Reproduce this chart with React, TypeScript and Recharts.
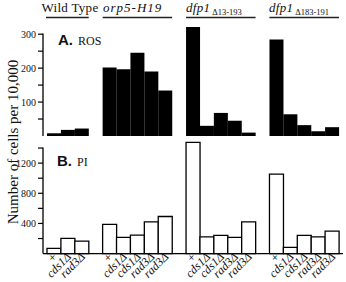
import React from 'react';
import { BarChart, Bar, XAxis, YAxis } from 'recharts';

// genotype labels under each bar
const wtLabels = ['+', 'cds1Δ', 'rad3Δ'];
const mutLabels = ['+', 'cds1Δ', 'cds1Δ', 'rad3Δ', 'rad3Δ'];

// A. ROS (cells per 10,000)
const rosWildType = [8, 18, 22];
const rosOrp5 = [202, 197, 245, 190, 134];
const rosDfp1a = [321, 30, 68, 45, 10];
const rosDfp1b = [284, 64, 32, 14, 26];

// B. PI (cells per 10,000)
const piWildType = [70, 202, 165];
const piOrp5 = [387, 215, 245, 421, 492];
const piDfp1a = [1476, 223, 241, 215, 421];
const piDfp1b = [1054, 83, 241, 223, 298];

const rosTicks = [50, 100, 150, 200, 250, 300];
const rosLabeled = [100, 200, 300];
const piTicks = [200, 400, 600, 800, 1000, 1200, 1400];
const piLabeled = [400, 800, 1200];

const groups = [
  { labels: wtLabels, ros: rosWildType, pi: piWildType },
  { labels: mutLabels, ros: rosOrp5, pi: piOrp5 },
  { labels: mutLabels, ros: rosDfp1a, pi: piDfp1a },
  { labels: mutLabels, ros: rosDfp1b, pi: piDfp1b },
];

type Row = { id: string; label: string; ros: number | null; pi: number | null };
const rows: Row[] = [];
const groupSpans: [number, number][] = [];
groups.forEach((g, gi) => {
  if (gi > 0) rows.push({ id: `gap${gi}`, label: '', ros: null, pi: null });
  const start = rows.length;
  g.labels.forEach((l, i) => rows.push({ id: `${gi}-${i}`, label: l, ros: g.ros[i], pi: g.pi[i] }));
  groupSpans.push([start, rows.length]);
});
const labelById: Record<string, string> = {};
rows.forEach((r) => (labelById[r.id] = r.label));

// layout
const W = 346;
const AXIS_W = 43;
const PAD = 4;
const RIGHT = 3;
const band = (W - AXIS_W - RIGHT - 2 * PAD) / rows.length;
const bandX = (i: number) => AXIS_W + PAD + i * band;

const A_H = 140;
const A_TOP = 24;
const A_BOTTOM = 4;
const A_MAX = 330;
const A_PLOT = A_H - A_TOP - A_BOTTOM;

const B_OFFSET = 130;
const B_H = 152;
const B_TOP = 10.5;
const B_XAXIS = 28.4;
const B_MAX = 1500;
const B_PLOT = B_H - B_TOP - B_XAXIS;

const serif = "'Liberation Serif', 'Times New Roman', serif";

const makeYTick = (labeled: number[], top: number, axisLen: number) => (props: any) => {
  const { x, y, payload } = props;
  const v = payload.value;
  return (
    <g>
      <line x1={x + 2} x2={x + 7} y1={y} y2={y} stroke="#000" strokeWidth={1.2} />
      {labeled.includes(v) && (
        <text x={x} y={y} dy={3.5} textAnchor="end" fontSize={10} fontFamily={serif} fill="#111">
          {v}
        </text>
      )}
      {v === top && (
        <line x1={x + 7} x2={x + 7} y1={y - 0.6} y2={y + axisLen} stroke="#000" strokeWidth={1.3} />
      )}
    </g>
  );
};

const XTick = (props: any) => {
  const { x, y, payload } = props;
  const label = labelById[payload.value];
  if (!label) return <g />;
  const tx = x + 4;
  const ty = y;
  return (
    <text
      x={tx}
      y={ty}
      transform={`rotate(-45 ${tx} ${ty})`}
      textAnchor="end"
      fontSize={12}
      fontStyle="italic"
      fontFamily={serif}
      fill="#111"
    >
      {label}
    </text>
  );
};

const headers = [
  { main: 'Wild Type', sub: '', italic: false, x: 41.5 },
  { main: 'orp5-H19', sub: '', italic: true, x: 103 },
  { main: 'dfp1', sub: 'Δ13-193', italic: true, x: 186 },
  { main: 'dfp1', sub: 'Δ183-191', italic: true, x: 269 },
];

export default function App() {
  return (
    <div style={{ position: 'absolute', left: 0, top: 0, width: W, height: 282, background: '#fff' }}>
      <div style={{ position: 'absolute', left: 0, top: 0 }}>
        <BarChart
          width={W}
          height={A_H}
          data={rows}
          margin={{ top: A_TOP, right: RIGHT, bottom: A_BOTTOM, left: 0 }}
          barCategoryGap={0}
          barGap={0}
        >
          <XAxis
            dataKey="id"
            height={0}
            tick={false}
            tickLine={false}
            interval={0}
            padding={{ left: PAD, right: PAD }}
            axisLine={{ stroke: '#000', strokeWidth: 1.3 }}
          />
          <YAxis
            width={AXIS_W}
            domain={[0, A_MAX]}
            ticks={rosTicks}
            interval={0}
            axisLine={false}
            tickLine={false}
            tickSize={5}
            tickMargin={2}
            tick={makeYTick(rosLabeled, 300, (300 / A_MAX) * A_PLOT)}
          />
          <Bar dataKey="ros" fill="#000" isAnimationActive={false} />
        </BarChart>
      </div>

      <div style={{ position: 'absolute', left: 0, top: B_OFFSET }}>
        <BarChart
          width={W}
          height={B_H}
          data={rows}
          margin={{ top: B_TOP, right: RIGHT, bottom: 0, left: 0 }}
          barCategoryGap={0}
          barGap={0}
        >
          <XAxis
            dataKey="id"
            height={B_XAXIS}
            tick={<XTick />}
            tickLine={false}
            tickSize={4}
            tickMargin={0}
            interval={0}
            padding={{ left: PAD, right: PAD }}
            axisLine={{ stroke: '#000', strokeWidth: 1.3 }}
          />
          <YAxis
            width={AXIS_W}
            domain={[0, B_MAX]}
            ticks={piTicks}
            interval={0}
            axisLine={false}
            tickLine={false}
            tickSize={5}
            tickMargin={2}
            tick={makeYTick(piLabeled, 1400, (1400 / B_MAX) * B_PLOT)}
          />
          <Bar dataKey="pi" fill="#fff" stroke="#000" strokeWidth={1.3} isAnimationActive={false} />
        </BarChart>
      </div>

      <svg
        width={W}
        height={282}
        style={{ position: 'absolute', left: 0, top: 0, pointerEvents: 'none' }}
      >
        {headers.map((h, i) => (
          <g key={i}>
            <text
              x={h.x}
              y={12}
              fontSize={13}
              fontFamily={serif}
              fontStyle={h.italic ? 'italic' : 'normal'}
              letterSpacing={i === 1 ? 1 : 0.3}
              fill="#111"
            >
              {h.main}
              {h.sub && (
                <tspan fontStyle="normal" fontSize={8.5} dx={2} dy={3} letterSpacing={0}>
                  {h.sub}
                </tspan>
              )}
            </text>
            <line
              x1={i === 0 ? bandX(groupSpans[i][0]) - 1 : bandX(groupSpans[i][0])}
              x2={bandX(groupSpans[i][1])}
              y1={17.5}
              y2={17.5}
              stroke="#222"
              strokeWidth={1.3}
            />
          </g>
        ))}
        <text x={58} y={45} fill="#111">
          <tspan fontFamily="'Liberation Sans', Arial, sans-serif" fontWeight="bold" fontSize={15}>
            A.
          </tspan>
          <tspan dx={5} fontFamily={serif} fontSize={12}>
            ROS
          </tspan>
        </text>
        <text x={57} y={166} fill="#111">
          <tspan fontFamily="'Liberation Sans', Arial, sans-serif" fontWeight="bold" fontSize={15}>
            B.
          </tspan>
          <tspan dx={5} fontFamily={serif} fontSize={12}>
            PI
          </tspan>
        </text>
        <text
          x={18}
          y={142}
          transform="rotate(-90 18 142)"
          textAnchor="middle"
          fontSize={15}
          fontFamily={serif}
          fill="#111"
        >
          Number of cells per 10,000
        </text>
      </svg>
    </div>
  );
}
